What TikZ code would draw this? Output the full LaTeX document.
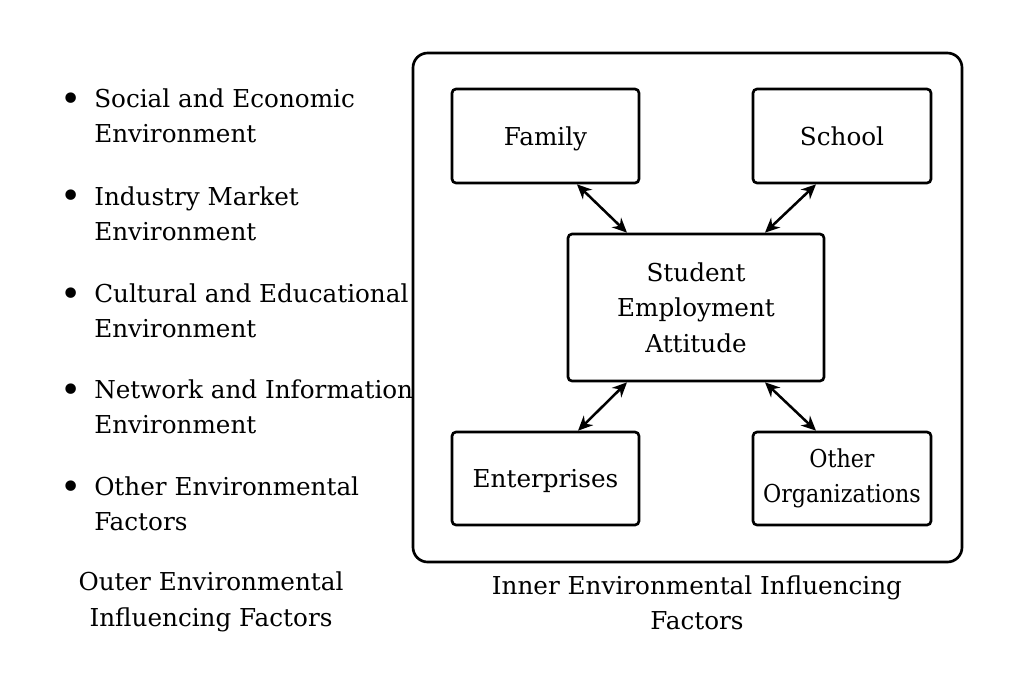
\documentclass[tikz,border=0pt]{standalone}
\usepackage{fontspec}
\setmainfont{DejaVu Serif}
\usetikzlibrary{arrows.meta}
\begin{document}
\begin{tikzpicture}[x=0.75pt,y=-0.75pt,
  txt/.style={font=\fontsize{18.5}{26.5}\selectfont, inner sep=0pt},
  box/.style={draw, line width=2pt, rounded corners=3pt, fill=white, align=center,
    font=\fontsize{18.5}{26.5}\selectfont, inner sep=2pt},
  one/.style={text height=16pt, text depth=2.5pt},
  link/.style={line width=1.9pt, {Stealth[length=11pt,width=10pt]}-{Stealth[length=11pt,width=10pt]}}]
\useasboundingbox[fill=white] (0,0) rectangle (1013,676);
% outer list
\node[txt, anchor=west, align=left] (i1) at (94,115.5) {Social and Economic\\Environment};
\node[txt, anchor=west, align=left] (i2) at (94,213.5) {Industry Market\\Environment};
\node[txt, anchor=west, align=left] (i3) at (94,310.5) {Cultural and Educational\\Environment};
\node[txt, anchor=west, align=left] (i4) at (94,407) {Network and Information\\Environment};
\node[txt, anchor=west, align=left] (i5) at (94,503.5) {Other Environmental\\Factors};
\foreach \y/\n in {102/b1,199/b2,297/b3,393/b4,490/b5}
  \node[inner sep=0pt, font=\fontsize{27}{30}\selectfont] (\n) at (71,\y) {•};
\node[txt, align=center] (outcap) at (211,602) {Outer Environmental\\Influencing Factors};
% inner frame
\node[draw, line width=2pt, rounded corners=11pt, fill=white, minimum width=411.75pt, minimum height=381.75pt, inner sep=0pt] (frame) at (687.5,307.5) {};
\node[box, one, minimum width=140.25pt, minimum height=70.5pt] (fam) at (545.5,136) {Family};
\node[box, one, minimum width=133.5pt, minimum height=70.5pt] (sch) at (842,136) {School};
\node[box, minimum width=192pt, minimum height=110.25pt] (ctr) at (696,307.5) {Student\\Employment\\Attitude};
\node[box, one, minimum width=140.25pt, minimum height=69.75pt] (ent) at (545.5,478.5) {Enterprises};
\node[box, minimum width=133.5pt, minimum height=69.75pt] (oth) at (842,478.5) {\scalebox{0.9}[1]{Other}\\\scalebox{0.9}[1]{Organizations}};
\draw[link] ([xshift=23.6pt]fam.south) -- ([xshift=-51.75pt]ctr.north);
\draw[link] ([xshift=-19.5pt]sch.south) -- ([xshift=51.75pt]ctr.north);
\draw[link] ([xshift=-51.75pt]ctr.south) -- ([xshift=24.4pt]ent.north);
\draw[link] ([xshift=51.75pt]ctr.south) -- ([xshift=-19.5pt]oth.north);
\node[txt, align=center] (incap) at (697,603) {Inner Environmental Influencing\\Factors};
\end{tikzpicture}
\end{document}
